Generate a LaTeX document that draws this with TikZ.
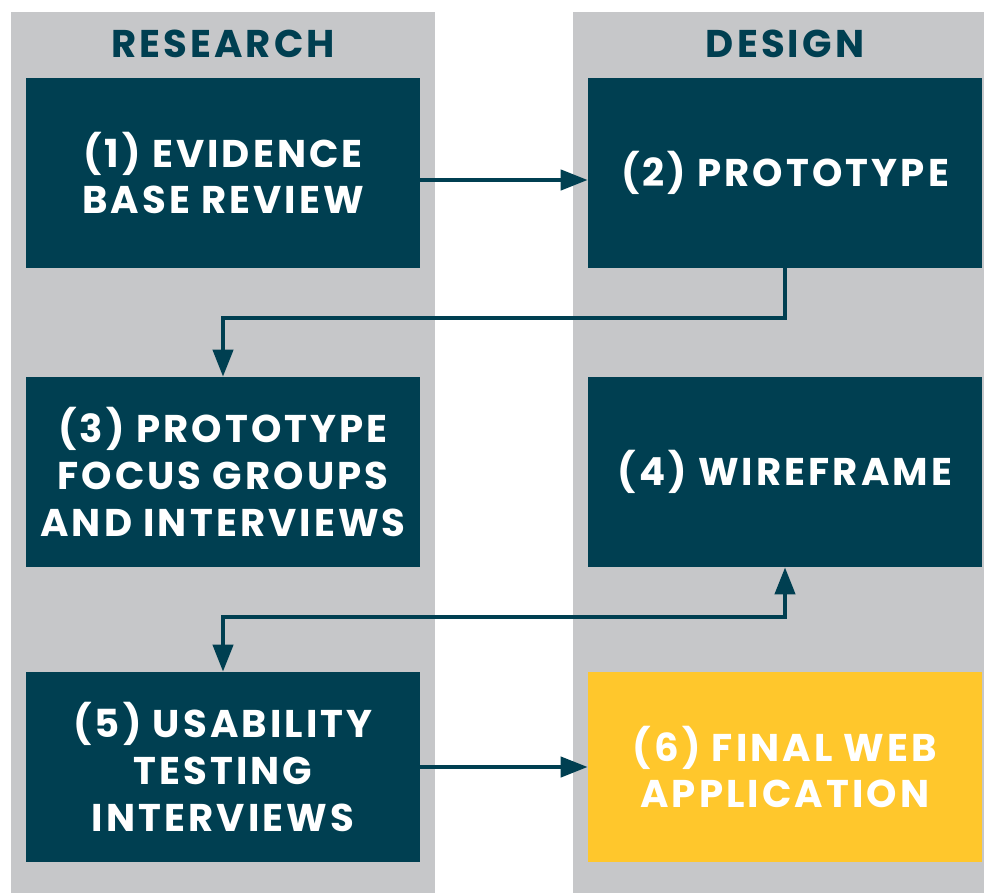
\documentclass[tikz,border=0pt]{standalone}
\usepackage{fontspec}
\setmainfont{Poppins}[LetterSpace=8]
\usetikzlibrary{positioning,arrows.meta}
\definecolor{boxteal}{RGB}{0,63,81}
\definecolor{lanegrey}{RGB}{198,199,201}
\definecolor{finalgold}{RGB}{255,199,44}

\begin{document}
\begin{tikzpicture}[x=0.02cm,y=-0.02cm,
    lane/.style={fill=lanegrey,inner sep=0pt,minimum height=17.62cm},
    lanetitle/.style={text=boxteal,font=\bfseries\fontsize{22}{26}\selectfont},
    stage/.style={fill=boxteal,text=white,align=center,inner sep=0pt,minimum width=7.88cm,minimum height=3.8cm,font=\bfseries\fontsize{22}{26.7}\selectfont},
    link/.style={draw=boxteal,line width=2.4pt,-{Triangle[length=0.54cm,width=0.4cm]}}]
  \useasboundingbox (0,0) rectangle (984,893);
  \node[lane,minimum width=8.48cm](research) at (223,452.5){};
  \node[lane,minimum width=8.22cm](design) at (778.5,452.5){};
  \node[lanetitle](researchtitle) at (223,44){RESEARCH};
  \node[lanetitle](designtitle) at (785,44){DESIGN};
  \node[stage](review) at (223,173){(1) EVIDENCE\\BASE REVIEW};
  \node[stage](prototype) at (785,173){(2) PROTOTYPE};
  \node[stage](focus) at (223,472){(3) PROTOTYPE\\FOCUS GROUPS\\AND INTERVIEWS};
  \node[stage](wireframe) at (785,472){(4) WIREFRAME};
  \node[stage](usability) at (223,767){(5) USABILITY\\TESTING\\INTERVIEWS};
  \node[stage,fill=finalgold](final) at (785,767){(6) FINAL WEB\\APPLICATION};
  \draw[link] ([yshift=-0.14cm]review.east) -- ([yshift=-0.14cm]prototype.west);
  \draw[link] (prototype.south) -- ++(0,50) -| (focus.north);
  \draw[link,{Triangle[length=0.54cm,width=0.4cm]}-{Triangle[length=0.54cm,width=0.4cm]}] (wireframe.south) -- ++(0,50) -| (usability.north);
  \draw[link] (usability.east) -- (final.west);
\end{tikzpicture}
\end{document}
